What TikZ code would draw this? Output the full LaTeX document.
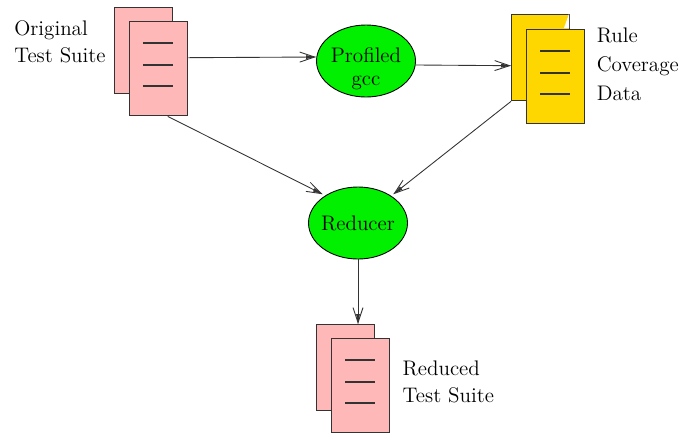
\documentclass[tikz,border=0pt]{standalone}
\usepackage{tikz}
\usetikzlibrary{shapes, arrows.meta, positioning}
\definecolor{pagepink}{HTML}{FFB8B8}
\definecolor{pagegold}{HTML}{FFD700}
\definecolor{blobgreen}{HTML}{00F000}
\definecolor{inkgray}{HTML}{333333}

\begin{document}
\begin{tikzpicture}[%
        >={Straight Barb[length=3mm, width=2mm, sep=-2mm]Stealth[length=2mm, width=0.7mm, inset=0pt]},
        x=0.02cm, y=-0.02cm,        % One unit is one pixel of the sketch
        font=\large,
    ]
    \tikzset{
        base/.style={draw=inkgray, line width=0.8pt, anchor=north west, inner sep=0pt},
        backpage/.style={base, minimum width=1.16cm, minimum height=1.72cm},
        frontpage/.style={base, minimum width=1.16cm, minimum height=1.88cm},
        pink/.style={fill=pagepink},
        gold/.style={fill=pagegold},
        proc/.style={draw=black, ellipse, fill=blobgreen, inner ysep=-6pt, inner xsep=-10pt,
            minimum width=1.98cm, minimum height=1.44cm, align=center, line width=0.5pt},
        caption/.style={align=left, inner sep=0pt},
        norm/.style={->, draw=inkgray, line width=0.5pt},
        rule/.style={draw=inkgray, line width=0.6pt}
    }
    \useasboundingbox (0,0) rectangle (686,433);
    %%% Blocks
    \node [backpage, pink] (orig_back) at (114,7) {};
    \node [frontpage, pink] (orig_front) at (129,21) {};
    \node [backpage, gold] (cover_back) at (511,14) {};
    \fill [white] (569,14) -- (564,28) -- (569,28) -- cycle;
    \node [frontpage, gold] (cover_front) at (526,29) {};
    \node [backpage, pink] (reduced_back) at (316,324) {};
    \node [frontpage, pink] (reduced_front) at (331,338) {};
    \node [proc] (profiled) at (366,61) {\rule{0pt}{0.62cm}Profiled\\[-1pt]gcc};
    \node [proc] (reducer) at (358,223) {Reducer};
    %%% Rules on the front pages
    \foreach \page in {orig_front, cover_front, reduced_front}
        \foreach \down in {22, 44, 65}
            \draw [rule] ([xshift=0.28cm, yshift=-\down*0.02cm]\page.north west) -- ++(30,0);
    %%% Labels
    \node [caption, left=0.16cm of orig_back.west, anchor=east, yshift=0.18cm] (orig_text)
        {Original\\[1.5pt]Test Suite};
    \node [caption, right=0.22cm of cover_front.east, anchor=west, yshift=0.25cm] (cover_text)
        {Rule\\[2.5pt]Coverage\\[2.5pt]Data};
    \node [caption, right=0.24cm of reduced_front.east, anchor=west, yshift=0.08cm] (reduced_text)
        {Reduced\\[1.5pt]Test Suite};
    %%% Connectors
    \draw [norm] ([yshift=0.22cm]orig_front.east) -- ([yshift=0.08cm]profiled.west);
    \draw [norm] ([yshift=-0.08cm]profiled.east) -- ([yshift=-0.16cm]cover_back.west);
    \draw [norm] ([xshift=0.18cm]orig_front.south) -- ([yshift=0.06cm]reducer.north west);
    \draw [norm] (cover_back.south west) -- ([yshift=0.06cm]reducer.north east);
    \draw [norm] (reducer.south) -- (reducer.south |- reduced_back.north);
\end{tikzpicture}
\end{document}
